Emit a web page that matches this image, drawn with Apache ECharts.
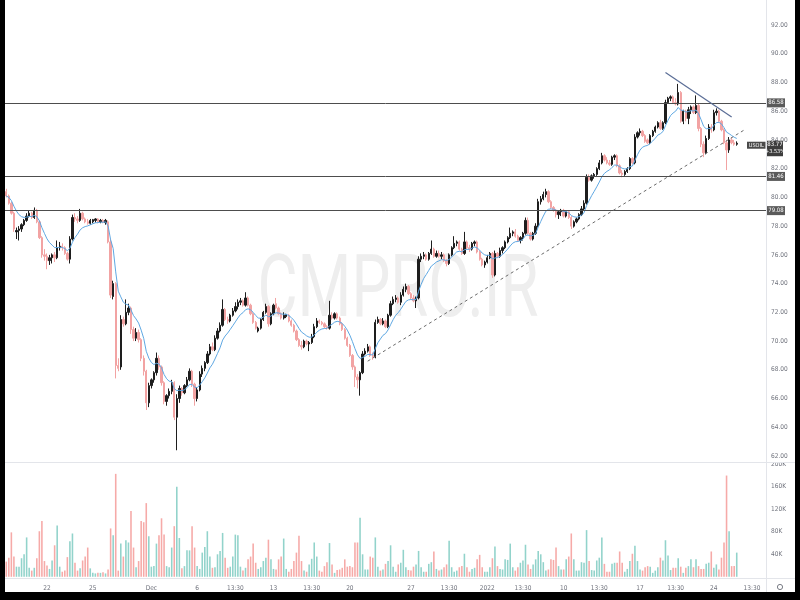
<!DOCTYPE html>
<html><head><meta charset="utf-8">
<script src="https://cdn.jsdelivr.net/npm/echarts@6/dist/echarts.min.js"></script>
<style>html,body{margin:0;padding:0;background:#fff;}#c{width:800px;height:600px;}</style>
</head><body><div id="c"></div>
<script>
// ---------- data ----------
const tickIdx  = [16,34,57,75,90,105,120,135,159,174,189,203,219,233,249,263,278,293];
const tickText = ['22','25','Dec','6','13:30','13','13:30','20','27','13:30','2022','13:30','10','13:30','17','13:30','24','13:30'];
const totalSlots = 299;

const opens = [
80.4,80.1,79.6,78.9,77.6,77.7,77.8,78.1,78.4,78.7, 78.9,78.6,79.1,78.3,77.2,76.0,75.9,75.6,75.8,76.0,
75.8,76.5,76.6,76.5,76.1,75.7,77.1,78.6,78.5,78.4, 78.9,78.5,78.3,78.2,78.30,78.40,78.50,78.30,78.40,78.25,
78.3,76.9,73.1,74.0,68.3,68.2,71.5,71.2,72.0,72.3, 70.8,70.2,70.6,70.1,68.8,67.9,65.7,66.9,67.3,67.8,
68.8,68.2,67.1,65.8,66.2,66.5,67.1,64.7,66.0,66.7, 66.4,66.9,67.3,67.9,67.0,66.0,66.6,67.7,68.1,68.5,
69.1,69.6,69.4,70.2,70.7,71.1,72.2,71.5,71.4,71.8, 72.1,72.4,72.7,72.8,72.5,73.0,72.5,71.9,71.3,70.7,
70.9,71.5,72.0,72.4,71.2,71.9,72.6,72.3,71.9,71.6, 71.7,71.8,71.4,71.1,70.7,70.1,69.7,69.6,70.0,69.8,
69.9,70.3,71.0,71.4,71.3,71.2,71.0,70.9,71.8,71.6, 71.9,71.6,71.2,70.8,70.2,69.7,69.0,68.2,67.5,67.3,
67.8,69.1,69.3,69.6,69.0,68.9,71.3,71.5,71.2,71.4, 71.0,71.8,72.6,72.9,73.0,72.7,73.2,73.6,73.8,73.3,
73.0,72.8,73.0,75.7,75.9,76.0,75.7,76.1,76.4,75.9, 76.1,75.9,76.0,75.6,75.4,76.0,76.5,76.8,76.9,76.4,
76.1,76.9,76.5,76.4,76.8,76.9,76.2,75.7,75.3,75.5, 75.8,76.1,74.6,76.1,75.9,76.3,76.5,76.9,77.2,77.5,
77.6,77.3,77.0,77.2,77.5,78.4,77.5,77.1,77.5,78.0, 79.7,79.9,80.2,80.4,79.7,79.3,79.1,78.8,79.0,79.1,
78.7,79.0,78.6,78.0,78.3,78.5,78.8,79.2,79.6,81.4, 81.2,81.5,81.6,82.0,82.4,82.9,82.6,82.4,82.3,82.8,
82.9,82.2,81.7,81.6,81.8,82.0,82.7,82.4,84.2,84.5, 84.6,84.3,84.0,83.8,84.3,84.6,84.9,85.2,84.8,85.2,
86.6,86.9,87.0,86.6,86.5,87.3,85.3,86.0,85.5,86.1, 86.3,85.9,86.4,84.8,83.7,83.1,84.1,84.9,84.7,85.9,
86.0,85.3,84.7,83.8,83.3,84.0,83.8,83.7
];
const highs = [
80.6,80.2,79.7,79.0,77.9,78.0,78.2,78.5,78.9,79.1, 79.0,79.3,79.2,78.4,77.3,76.4,76.1,76.0,76.1,76.2,
77.0,76.9,76.8,76.6,76.2,77.3,78.8,78.9,78.7,79.2, 79.0,78.6,78.5,78.5,78.50,78.55,78.55,78.50,78.50,78.50,
78.4,77.1,74.2,74.1,68.8,71.8,71.7,72.9,72.6,72.4, 71.0,70.9,70.8,70.2,69.0,68.0,67.1,67.4,67.9,69.2,
69.0,68.3,67.2,66.3,66.7,67.3,67.2,66.3,66.9,66.8, 67.0,67.5,68.1,68.0,67.1,66.8,67.9,68.3,68.6,69.3,
69.8,69.9,70.4,70.9,71.3,72.9,72.3,71.7,71.9,72.3, 72.7,72.9,73.0,72.9,73.4,73.1,72.6,72.0,71.4,71.0,
71.6,72.1,72.6,72.5,72.0,72.6,73.0,72.4,72.0,72.0, 71.9,71.9,71.5,71.2,70.8,70.2,70.0,70.1,70.1,70.0,
70.5,71.2,71.6,71.5,71.4,71.3,71.1,72.8,72.0,72.0, 72.0,71.7,71.3,70.9,70.3,69.8,69.1,68.3,67.7,67.9,
69.3,69.5,69.8,69.7,69.2,71.5,71.7,71.6,71.6,71.5, 71.9,72.8,73.1,73.2,73.1,73.4,73.8,74.0,73.9,73.4,
73.2,73.1,75.9,76.1,76.2,76.1,76.2,77.0,76.5,76.3, 76.3,76.2,76.1,75.7,76.1,76.6,77.3,77.0,77.0,76.5,
77.6,77.0,76.7,76.9,77.0,77.0,76.3,75.8,75.6,76.0, 76.2,76.2,76.3,76.2,76.5,76.6,77.0,77.3,77.9,77.7,
77.8,77.4,77.3,77.6,78.6,78.6,77.6,77.6,78.2,79.9, 80.1,80.4,80.6,80.5,79.8,79.4,79.2,79.1,79.2,79.2,
79.1,79.1,78.7,78.4,78.6,78.9,79.4,79.8,81.6,81.6, 81.6,81.7,82.1,82.6,83.1,83.0,82.8,82.6,82.9,83.0,
83.0,82.3,81.9,81.9,82.1,82.8,82.8,84.4,84.6,84.8, 84.7,84.4,84.1,84.4,84.7,85.0,85.3,85.4,85.3,86.8,
87.0,87.1,87.1,86.9,87.9,87.4,86.1,86.1,86.3,86.4, 86.4,87.1,86.5,84.9,83.9,84.3,85.1,85.1,86.1,86.2,
86.1,85.4,84.8,84.0,84.2,84.2,84.0,83.9
];
const lows = [
80.0,79.5,78.8,77.6,77.1,77.0,77.6,78.0,78.3,78.6, 78.5,78.5,78.2,77.1,75.8,75.6,75.0,75.3,75.4,75.5,
75.7,76.3,76.3,76.0,75.6,75.4,77.0,78.3,78.2,78.3, 78.4,78.2,78.1,78.1,78.20,78.25,78.20,78.20,78.20,78.10,
76.8,73.0,72.9,67.4,67.9,68.0,71.0,71.1,71.8,70.5, 70.0,70.0,69.9,68.6,67.6,65.2,65.4,66.7,67.1,67.6,
68.0,66.9,65.6,65.5,66.0,66.3,64.5,62.4,65.7,66.2, 66.3,66.8,67.2,66.8,65.5,65.8,66.5,67.5,67.9,68.4,
69.0,69.3,69.3,70.1,70.6,71.0,71.4,71.2,71.3,71.7, 72.0,72.2,72.5,72.4,72.4,72.4,71.8,71.2,70.8,70.6,
70.8,71.4,71.9,71.0,71.1,71.8,72.2,71.8,71.5,71.5, 71.6,71.3,71.0,70.6,70.0,69.6,69.4,69.5,69.7,69.3,
69.8,70.2,70.9,71.2,71.1,70.9,70.8,70.8,71.5,71.5, 71.5,71.1,70.7,70.1,69.6,68.9,68.0,66.8,66.7,66.2,
67.7,69.0,69.2,68.9,68.7,68.8,71.2,71.1,71.1,70.9, 70.9,71.7,72.5,72.7,72.6,72.5,73.1,73.4,73.2,72.9,
72.7,72.3,72.9,75.5,75.7,75.6,75.6,76.0,75.8,75.8, 75.8,75.7,75.5,75.2,75.3,75.9,76.4,76.6,76.3,76.0,
76.0,76.4,76.2,76.3,76.6,76.1,75.6,75.2,75.1,75.4, 75.7,74.4,74.5,75.8,75.8,76.1,76.4,76.8,77.1,77.3,
77.2,76.9,76.8,77.0,77.4,77.4,77.0,77.0,77.4,77.9, 79.5,79.8,80.0,79.6,79.2,79.0,78.6,78.5,78.7,78.6,
78.6,78.5,77.8,77.9,78.2,78.4,78.7,79.1,79.5,81.1, 81.1,81.3,81.5,81.9,82.3,82.5,82.3,82.2,82.2,82.6,
82.1,81.6,81.4,81.5,81.7,81.9,82.3,82.3,84.1,84.3, 84.2,83.8,83.7,83.7,84.2,84.5,84.8,84.7,84.7,85.1,
86.5,86.7,86.5,86.4,86.4,85.2,85.1,85.3,85.1,85.8, 85.8,85.8,84.6,83.5,82.8,83.0,84.0,84.5,84.6,85.7,
85.2,84.6,83.7,81.9,83.1,83.7,83.6,83.6
];
const closes = [
80.1,79.6,78.9,77.8,77.7,77.8,78.1,78.4,78.7,78.9, 78.6,79.1,78.3,77.2,76.0,75.9,75.6,75.8,76.0,75.8,
76.5,76.6,76.5,76.1,75.7,77.1,78.6,78.5,78.4,78.9, 78.5,78.3,78.2,78.4,78.45,78.50,78.30,78.40,78.25,78.40,
76.9,73.2,74.0,68.3,68.1,71.5,71.2,72.0,72.3,70.8, 70.2,70.6,70.1,68.8,67.9,65.7,66.9,67.3,67.8,68.8,
68.2,67.1,65.8,66.2,66.5,67.1,64.7,66.0,66.7,66.4, 66.9,67.3,67.9,67.0,66.0,66.6,67.7,68.1,68.5,69.1,
69.6,69.4,70.2,70.7,71.1,72.2,71.5,71.4,71.8,72.1, 72.4,72.7,72.8,72.5,73.0,72.5,71.9,71.3,70.9,70.9,
71.5,72.0,72.4,71.2,71.9,72.5,72.3,71.9,71.6,71.8, 71.85,71.4,71.1,70.7,70.1,69.7,69.6,70.0,69.8,69.9,
70.3,71.0,71.4,71.3,71.2,71.0,70.9,71.8,71.6,71.9, 71.6,71.2,70.8,70.2,69.7,69.0,68.2,67.5,67.3,67.8,
69.1,69.3,69.6,69.0,68.9,71.3,71.5,71.2,71.4,71.0, 71.8,72.6,72.9,73.0,72.7,73.2,73.6,73.8,73.3,73.0,
72.8,73.0,75.7,75.9,76.0,75.7,76.1,76.4,75.9,76.1, 75.9,76.0,75.6,75.4,76.0,76.5,76.8,76.9,76.4,76.1,
76.9,76.5,76.4,76.8,76.9,76.2,75.7,75.3,75.5,75.8, 76.1,74.6,76.1,75.9,76.3,76.5,76.9,77.2,77.5,77.6,
77.3,77.0,77.2,77.5,78.4,77.5,77.1,77.5,78.0,79.7, 79.9,80.2,80.4,79.7,79.3,79.1,78.8,79.0,79.1,78.7,
79.0,78.6,78.0,78.3,78.5,78.8,79.2,79.6,81.4,81.2, 81.5,81.6,82.0,82.4,82.9,82.6,82.4,82.3,82.8,82.9,
82.2,81.7,81.6,81.8,82.0,82.7,82.4,84.2,84.5,84.6, 84.3,83.9,83.8,84.3,84.6,84.9,85.2,84.8,85.2,86.6,
86.9,87.0,86.6,86.5,87.3,85.3,86.0,85.5,86.1,86.3, 85.9,86.4,84.8,83.7,83.1,84.1,84.9,84.7,85.9,86.0,
85.3,84.7,83.8,83.3,84.0,83.8,83.7,83.77
];
const volumesK = [
27,34,79,36,18,18,33,40,70,16, 11,16,33,81,99,28,20,14,29,56,
91,18,9,11,35,63,77,25,11,15, 29,36,52,15,7,6,7,7,8,6,
13,86,74,183,11,59,36,65,61,117, 52,17,28,99,97,131,72,18,19,59,
74,104,75,19,17,52,90,160,69,15, 19,47,47,90,52,19,14,43,53,81,
36,16,17,40,46,78,34,16,18,36, 75,74,18,11,16,31,36,59,25,14,
17,28,34,66,31,14,13,31,36,68, 14,9,14,28,43,73,28,11,9,22,
32,61,36,11,9,19,26,60,22,7, 12,13,16,31,18,19,17,61,61,105,
40,13,13,36,34,70,18,11,13,23, 28,56,18,9,22,25,48,17,12,11,
18,22,46,17,9,9,23,26,45,14, 11,13,17,22,64,17,9,11,17,19,
41,17,9,14,16,31,39,17,9,9, 17,33,54,19,14,13,31,30,59,17,
11,17,25,29,57,22,14,22,31,46, 40,26,11,13,31,30,52,19,13,13,
31,36,77,31,11,11,26,25,83,28, 12,11,29,34,70,23,9,9,23,25,
25,45,25,9,14,28,41,55,28,13, 11,17,19,18,7,11,17,34,29,65,
38,12,16,16,33,18,7,16,19,31, 17,31,19,14,14,23,25,45,16,22,
13,34,61,180,81,19,19,43
];
const levels = [86.58, 81.46, 79.08];
const lastPrice = 83.77;
const lastChange = '+3.53%';
const symbol = 'USOIL';
const supportLine = [[142, 68.6], [290, 84.7]];
const resistLine  = [[259, 88.7], [285, 85.6]];
const watermark = 'CMPRO.IR';

// ---------- build ----------
const cats = Array.from({length: totalSlots}, () => '');
tickIdx.forEach((k, j) => { cats[k] = tickText[j]; });
const ohlc = opens.map((o, i) => [o, closes[i], lows[i], highs[i]]);
const UP = '#1e1e1e', DOWN = '#f2a3a3', VUP = '#92d3cb', VDOWN = '#f6aaa8';
const vol = volumesK.map((v, i) => ({value: v, itemStyle: {color: closes[i] >= opens[i] ? VUP : VDOWN}}));
const ema = []; let prev = null;
closes.forEach(c => { prev = prev === null ? c : prev + (c - prev) * 0.2; ema.push(+prev.toFixed(3)); });

const FONT = '"Liberation Sans Narrow","DejaVu Sans Condensed","Liberation Sans",sans-serif';
const chart = echarts.init(document.getElementById('c'), null, {renderer: 'canvas'});
const GL = 5, GW = 761;
chart.setOption({
  animation: false,
  backgroundColor: '#ffffff',
  grid: [
    {left: GL, width: GW, top: 0, height: 456},
    {left: GL, width: GW, top: 463, height: 113.8}
  ],
  xAxis: [
    {type: 'category', gridIndex: 0, data: cats, boundaryGap: true, axisLine: {show: false}, axisTick: {show: false}, axisLabel: {show: false}, splitLine: {show: false}},
    {type: 'category', gridIndex: 1, data: cats, boundaryGap: true, axisLine: {show: false}, axisTick: {show: false}, splitLine: {show: false},
     axisLabel: {show: true, interval: (idx) => tickIdx.indexOf(idx) >= 0, color: '#6f727c', fontSize: 6.5, fontFamily: FONT, margin: 8, hideOverlap: false}}
  ],
  yAxis: [
    {type: 'value', gridIndex: 0, position: 'right', min: 62, max: 93.74, interval: 2, scale: true,
     axisLine: {show: false}, axisTick: {show: false}, splitLine: {show: false},
     axisLabel: {color: '#6f727c', fontSize: 6.5, fontFamily: FONT, margin: 5,
       formatter: v => (Math.abs(v - Math.round(v)) < 1e-6 && Math.round(v) % 2 === 0 && v <= 92) ? v.toFixed(2) : ''}},
    {type: 'value', gridIndex: 1, position: 'right', min: 0, max: 202.3, interval: 40,
     axisLine: {show: false}, axisTick: {show: false}, splitLine: {show: false},
     axisLabel: {color: '#6f727c', fontSize: 6.5, fontFamily: FONT, margin: 5,
       formatter: v => (v > 0 && Math.abs(v % 40) < 1e-6) ? v + 'K' : ''}}
  ],
  series: [
    {type: 'candlestick', xAxisIndex: 0, yAxisIndex: 0, data: ohlc, barWidth: '72%',
     itemStyle: {color: UP, color0: DOWN, borderColor: UP, borderColor0: DOWN, borderWidth: 1},
     markLine: {silent: true, symbol: ['none', 'none'], label: {show: false}, animation: false,
       data: [
         ...levels.map(v => ({yAxis: v, lineStyle: {color: '#4d4d4d', width: 1, type: 'solid'}})),
         [{coord: supportLine[0], lineStyle: {color: '#6b6b6b', width: 1, type: [3, 3]}}, {coord: supportLine[1]}],
         [{coord: resistLine[0], lineStyle: {color: '#5a6d96', width: 1.2, type: 'solid'}}, {coord: resistLine[1]}]
       ]}},
    {type: 'line', xAxisIndex: 0, yAxisIndex: 0, data: ema, symbol: 'none', smooth: false,
     lineStyle: {color: '#5fa8e3', width: 1}, z: 3},
    {type: 'bar', xAxisIndex: 1, yAxisIndex: 1, data: vol, barWidth: '62%'}
  ]
});

// overlay: tags, separators, frame, watermark
const yPix = v => chart.convertToPixel({yAxisIndex: 0}, v);
const tagW = 18;
const g = [];
g.push({type: 'text', x: 398, y: 294, scaleX: 0.7, z: -10, silent: true,
  style: {text: watermark, fontSize: 88, fontFamily: 'Roboto, "Liberation Sans", sans-serif', fill: '#eeeeee', align: 'center', verticalAlign: 'middle'}});
g.push({type: 'line', shape: {x1: 766.5, y1: 0, x2: 766.5, y2: 592}, style: {stroke: '#e3e5ea', lineWidth: 1}, z: 50});
g.push({type: 'rect', shape: {x: 767, y: 459.6, width: 28, height: 3}, style: {fill: '#ffffff'}, z: 60});
g.push({type: 'line', shape: {x1: 5, y1: 462.5, x2: 795, y2: 462.5}, style: {stroke: '#e3e5ea', lineWidth: 1}, z: 61});
g.push({type: 'line', shape: {x1: 5, y1: 578.5, x2: 795, y2: 578.5}, style: {stroke: '#e3e5ea', lineWidth: 1}, z: 61});
levels.forEach(v => {
  const y = yPix(v);
  g.push({type: 'rect', shape: {x: 767, y: y - 4.5, width: tagW, height: 9}, style: {fill: '#5a5a5a'}, z: 70});
  g.push({type: 'text', x: 767 + tagW / 2, y: y, z: 71, style: {text: v.toFixed(2), fontSize: 6, fontFamily: FONT, fill: '#ffffff', align: 'center', verticalAlign: 'middle'}});
});
const yl = yPix(lastPrice);
g.push({type: 'rect', shape: {x: 747, y: yl - 1.5, width: 18.5, height: 7}, style: {fill: '#4a4a4a'}, z: 70});
g.push({type: 'text', x: 756.2, y: yl + 2, z: 71, style: {text: symbol, fontSize: 5.5, fontFamily: FONT, fill: '#ffffff', align: 'center', verticalAlign: 'middle'}});
g.push({type: 'rect', shape: {x: 767, y: yl - 2.5, width: 16, height: 15.5}, style: {fill: '#3d3d3d'}, z: 70});
g.push({type: 'text', x: 775, y: yl + 1.5, z: 71, style: {text: lastPrice.toFixed(2), fontSize: 6, fontFamily: FONT, fill: '#ffffff', align: 'center', verticalAlign: 'middle'}});
g.push({type: 'text', x: 775, y: yl + 8.5, z: 71, style: {text: lastChange, fontSize: 5.5, fontFamily: FONT, fill: '#ffffff', align: 'center', verticalAlign: 'middle'}});
g.push({type: 'circle', shape: {cx: 780, cy: 587, r: 2.6}, style: {fill: 'none', stroke: '#7a7d86', lineWidth: 1}, z: 70});
// black frame
g.push({type: 'rect', shape: {x: 0, y: 0, width: 5, height: 600}, style: {fill: '#000'}, z: 100});
g.push({type: 'rect', shape: {x: 795, y: 0, width: 5, height: 600}, style: {fill: '#000'}, z: 100});
g.push({type: 'rect', shape: {x: 0, y: 592, width: 800, height: 8}, style: {fill: '#000'}, z: 100});
chart.setOption({graphic: g});
</script>
</body></html>
